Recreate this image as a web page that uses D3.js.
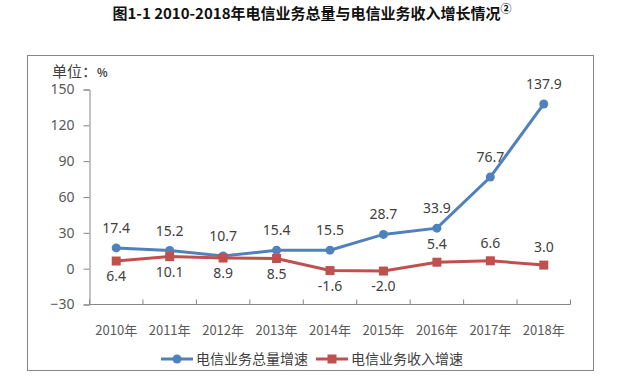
<!DOCTYPE html>
<html>
<head>
<meta charset="utf-8">
<script src="https://cdn.jsdelivr.net/npm/d3@7"></script>
<style>
    body { margin: 0; background: #fff; }
    svg { display: block; font-family: "Noto Sans CJK SC", "Noto Sans", sans-serif; }
</style>
</head>
<body>
<svg id="chart" width="634" height="386"></svg>
<script>
const years = ['2010年', '2011年', '2012年', '2013年', '2014年', '2015年', '2016年', '2017年', '2018年']
const volumeGrowth = [17.4, 15.2, 10.7, 15.4, 15.5, 28.7, 33.9, 76.7, 137.9]
const revenueGrowth = [6.4, 10.1, 8.9, 8.5, -1.6, -2.0, 5.4, 6.6, 3.0]
const yTicks = [-30, 0, 30, 60, 90, 120, 150]
// label above (-1) or below (1) the point
const revenueLabelSide = [1, 1, 1, 1, 1, 1, -1, -1, -1]

const blue = '#4f81bd'
const red = '#c0504d'
const axisColor = '#868686'
const textColor = '#404040'

const svg = d3.select('#chart')

// title
const title = svg.append('text')
    .attr('x', 312)
    .attr('y', 19)
    .attr('text-anchor', 'middle')
    .attr('font-size', 15)
    .attr('font-weight', 'bold')
    .attr('fill', '#111')
    .text('图1-1 2010-2018年电信业务总量与电信业务收入增长情况')
title.append('tspan')
    .attr('font-size', 11)
    .attr('dy', -6)
    .text('②')

// outer frame
svg.append('rect')
    .attr('x', 27.5)
    .attr('y', 55.5)
    .attr('width', 566)
    .attr('height', 315)
    .attr('fill', 'none')
    .attr('stroke', axisColor)
    .attr('stroke-width', 1)

const x = d3.scaleBand()
    .domain(years)
    .range([89.5, 570.5])
const y = d3.scaleLinear()
    .domain([-30, 150])
    .range([304.5, 89.5])

// unit label
const unit = svg.append('text')
    .attr('x', 52)
    .attr('y', 77)
    .attr('fill', textColor)
    .attr('font-size', 15)
    .text('单位：')
unit.append('tspan').attr('font-size', 11).attr('font-weight', 'bold').text('%')

// y axis
const yAxis = svg.append('g')
    .attr('transform', 'translate(89.5,0)')
    .call(d3.axisLeft(y).tickValues(yTicks).tickSize(6).tickPadding(9))
yAxis.select('.domain').attr('stroke', axisColor)
yAxis.selectAll('.tick line').attr('stroke', axisColor)
yAxis.selectAll('.tick text')
    .attr('fill', '#595959')
    .attr('font-size', 14)
    .attr('font-family', '"Noto Sans", sans-serif')

// x axis at -30
const xAxis = svg.append('g')
    .attr('transform', `translate(0,${y(-30)})`)
xAxis.append('line')
    .attr('x1', x.range()[0])
    .attr('x2', x.range()[1])
    .attr('stroke', axisColor)
const bounds = years.map(d => x(d)).concat([x.range()[1]])
xAxis.selectAll('line.tk')
    .data(bounds)
    .join('line')
    .attr('class', 'tk')
    .attr('x1', d => d)
    .attr('x2', d => d)
    .attr('y1', 0)
    .attr('y2', -5)
    .attr('stroke', axisColor)
xAxis.selectAll('text')
    .data(years)
    .join('text')
    .attr('x', d => x(d) + x.bandwidth() / 2)
    .attr('y', 30)
    .attr('text-anchor', 'middle')
    .attr('fill', '#595959')
    .attr('font-size', 13)
    .text(d => d)

const cx = (d, i) => x(years[i]) + x.bandwidth() / 2
const line = d3.line()
    .x(cx)
    .y(d => y(d))

// volume series
svg.append('path')
    .datum(volumeGrowth)
    .attr('d', line)
    .attr('fill', 'none')
    .attr('stroke', blue)
    .attr('stroke-width', 3)
svg.selectAll('circle.vol')
    .data(volumeGrowth)
    .join('circle')
    .attr('class', 'vol')
    .attr('cx', cx)
    .attr('cy', d => y(d))
    .attr('r', 4.5)
    .attr('fill', blue)

// revenue series
svg.append('path')
    .datum(revenueGrowth)
    .attr('d', line)
    .attr('fill', 'none')
    .attr('stroke', red)
    .attr('stroke-width', 3)
svg.selectAll('rect.rev')
    .data(revenueGrowth)
    .join('rect')
    .attr('class', 'rev')
    .attr('x', (d, i) => cx(d, i) - 4.5)
    .attr('y', d => y(d) - 4.5)
    .attr('width', 9)
    .attr('height', 9)
    .attr('fill', red)

// data labels
svg.selectAll('text.volLabel')
    .data(volumeGrowth)
    .join('text')
    .attr('class', 'volLabel')
    .attr('x', cx)
    .attr('y', d => y(d) - 15)
    .attr('text-anchor', 'middle')
    .attr('fill', textColor)
    .attr('font-size', 14)
    .attr('font-family', '"Noto Sans", sans-serif')
    .text(d => d.toFixed(1))
svg.selectAll('text.revLabel')
    .data(revenueGrowth)
    .join('text')
    .attr('class', 'revLabel')
    .attr('x', cx)
    .attr('y', (d, i) => y(d) + (revenueLabelSide[i] > 0 ? 20 : -13))
    .attr('text-anchor', 'middle')
    .attr('fill', textColor)
    .attr('font-size', 14)
    .attr('font-family', '"Noto Sans", sans-serif')
    .text(d => d.toFixed(1))

// legend
const legend = [
    { name: '电信业务总量增速', color: blue, shape: 'circle', x: 161 },
    { name: '电信业务收入增速', color: red, shape: 'square', x: 316 }
]
const lg = svg.selectAll('g.legend')
    .data(legend)
    .join('g')
    .attr('class', 'legend')
    .attr('transform', d => `translate(${d.x},359)`)
lg.append('line')
    .attr('x1', 0)
    .attr('x2', 32)
    .attr('stroke', d => d.color)
    .attr('stroke-width', 3)
lg.filter(d => d.shape == 'circle').append('circle')
    .attr('cx', 16)
    .attr('r', 4.5)
    .attr('fill', d => d.color)
lg.filter(d => d.shape == 'square').append('rect')
    .attr('x', 11.5)
    .attr('y', -4.5)
    .attr('width', 9)
    .attr('height', 9)
    .attr('fill', d => d.color)
lg.append('text')
    .attr('x', 35)
    .attr('y', 5)
    .attr('fill', textColor)
    .attr('font-size', 14)
    .text(d => d.name)
</script>
</body>
</html>
